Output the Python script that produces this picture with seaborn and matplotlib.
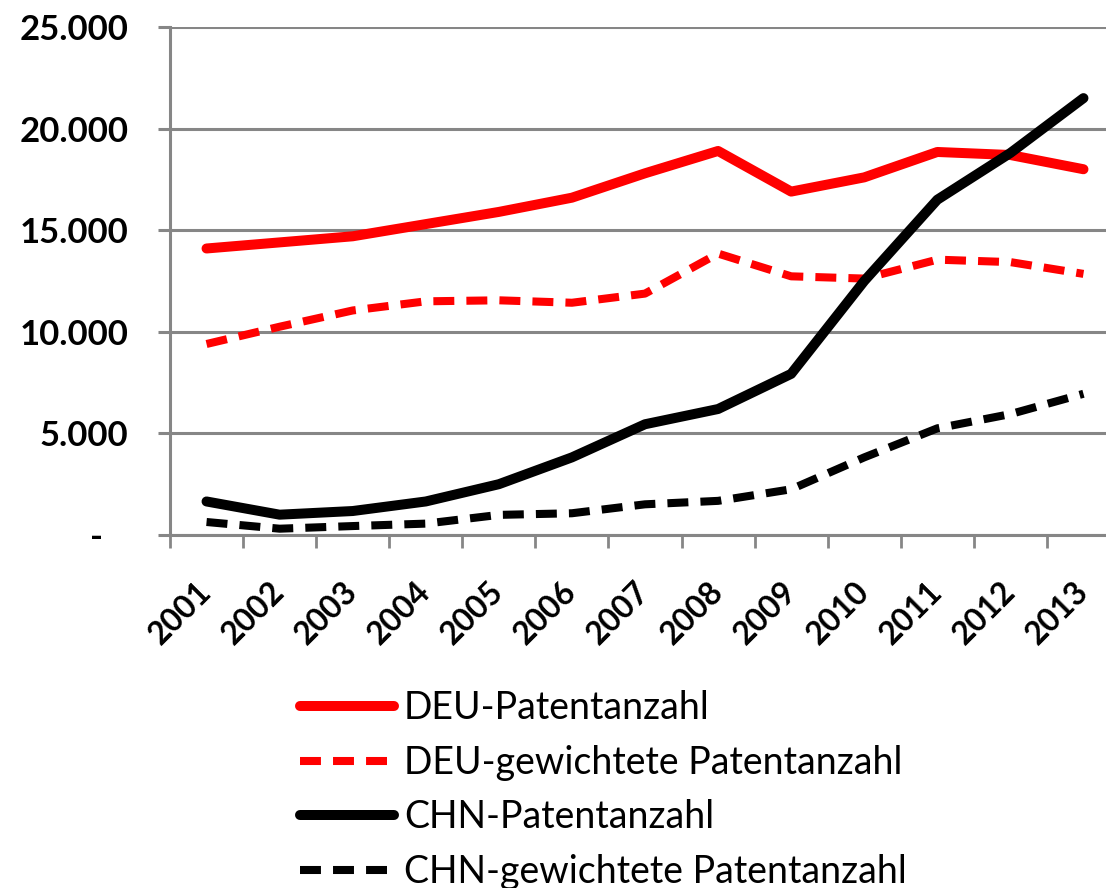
import matplotlib
matplotlib.use("Agg")
import matplotlib.pyplot as plt
import matplotlib.ticker as mticker
import seaborn as sns
import numpy as np

years = [2001, 2002, 2003, 2004, 2005, 2006, 2007, 2008, 2009, 2010, 2011, 2012, 2013]
deu_patents = [14100, 14400, 14700, 15300, 15900, 16600, 17800, 18900, 16900, 17600, 18850, 18700, 18000]
deu_weighted = [9400, 10250, 11050, 11500, 11550, 11430, 11880, 13850, 12730, 12620, 13550, 13430, 12850]
chn_patents = [1650, 1000, 1180, 1650, 2500, 3820, 5450, 6200, 7930, 12500, 16500, 18800, 21500]
chn_weighted = [640, 310, 440, 560, 990, 1070, 1510, 1680, 2250, 3820, 5250, 5950, 6950]
labels = ["DEU-Patentanzahl", "DEU-gewichtete Patentanzahl",
          "CHN-Patentanzahl", "CHN-gewichtete Patentanzahl"]

sns.set_theme(style="white")
plt.rcParams['font.family'] = ['Lato', 'DejaVu Sans']
plt.rcParams['text.color'] = 'black'
plt.rcParams['xtick.labelcolor'] = 'black'
plt.rcParams['ytick.labelcolor'] = 'black'

W, H = 1106, 888
fig = plt.figure(figsize=(W / 100, H / 100), dpi=100)
left, right, top, bottom = 170, 1120, 27, 535
ax = fig.add_axes([left / W, 1 - bottom / H, (right - left) / W, (bottom - top) / H])

grey = "#868686"
solid_lw = 7.2
dash_lw = 5.8
dash_pat = (0, (2.6, 1.5))

series = [
    (deu_patents, "#ff0000", "-", solid_lw),
    (deu_weighted, "#ff0000", dash_pat, dash_lw),
    (chn_patents, "#000000", "-", solid_lw),
    (chn_weighted, "#000000", dash_pat, dash_lw),
]
for (vals, col, ls, lw), lab in zip(series, labels):
    sns.lineplot(x=years, y=vals, ax=ax, color=col, linestyle=ls, linewidth=lw,
                 label=lab, solid_joinstyle="round", solid_capstyle="round",
                 dash_capstyle="butt", legend=False)

ax.set_xlim(years[0] - 0.5, years[-1] + 0.5)
ax.set_ylim(0, 25000)

# y axis
ax.yaxis.set_major_locator(mticker.MultipleLocator(5000))
ax.yaxis.set_major_formatter(mticker.FuncFormatter(
    lambda v, p: f"{int(v):,}".replace(",", ".") if v else "-   "))
ax.grid(axis="y", color=grey, linewidth=2.2)
ax.grid(axis="x", visible=False)
ax.tick_params(axis="y", which="major", left=True, length=9, width=2.2, color=grey,
               pad=21, labelsize=25, labelcolor="black")
for t in ax.get_yticklabels():
    t.set_fontweight("bold")

# x axis: ticks between categories, labels at categories
ax.set_xticks([y - 0.5 for y in years] + [years[-1] + 0.5])
ax.set_xticklabels([])
ax.set_xticks(years, minor=True)
ax.set_xticklabels([str(y) for y in years], minor=True, rotation=45,
                   fontsize=23, fontweight="bold")
ax.tick_params(axis="x", which="major", bottom=True, length=9, width=2.0, color=grey)
ax.tick_params(axis="x", which="minor", bottom=True, length=0, pad=37, labelcolor="black")
for t in ax.get_xticklabels(minor=True):
    t.set_ha("right")
    t.set_va("center")
    t.set_rotation_mode("anchor")

for s in ["top", "right"]:
    ax.spines[s].set_visible(False)
for s in ["left", "bottom"]:
    ax.spines[s].set_color(grey)
    ax.spines[s].set_linewidth(2.2)
ax.set_xlabel("")
ax.set_ylabel("")

handles = ax.get_lines()[:4]
leg = fig.legend(handles=handles, labels=labels, loc="upper left",
                 bbox_to_anchor=(300 / W, 1 - 690 / H), frameon=False,
                 prop={"family": "Lato", "size": 27}, handlelength=2.5,
                 handletextpad=0.27, labelspacing=0.5, borderpad=0, borderaxespad=0)
for t in leg.get_texts():
    t.set_color("black")

fig.savefig("out.png", dpi=100)
